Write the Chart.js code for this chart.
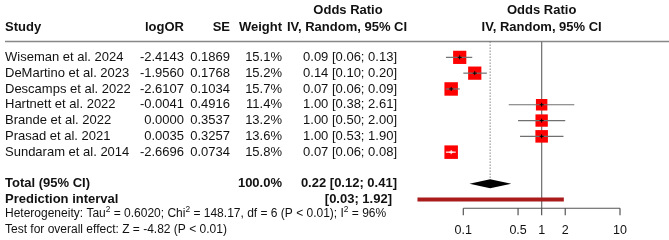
<!DOCTYPE html>
<html>
<head>
<meta charset="utf-8">
<script src="https://cdn.jsdelivr.net/npm/chart.js@4/dist/chart.umd.min.js"></script>
<style>
  body { margin: 0; background: #fff; }
  #wrap { width: 669px; height: 240px; }
</style>
</head>
<body>
<div id="wrap"><canvas id="forestChart"></canvas></div>
<script>
// Dữ liệu
const studies = ["Wiseman et al. 2024", "DeMartino et al. 2023", "Descamps et al. 2022",
    "Hartnett et al. 2022", "Brande et al. 2022", "Prasad et al. 2021", "Sundaram et al. 2014"];
const logOR = [-2.4143, -1.9560, -2.6107, -0.0041, 0.0000, 0.0035, -2.6696];
const seValues = [0.1869, 0.1768, 0.1034, 0.4916, 0.3537, 0.3257, 0.0734];
const weights = [15.1, 15.2, 15.7, 11.4, 13.2, 13.6, 15.8];
const orValues = [0.09, 0.14, 0.07, 1.00, 1.00, 1.00, 0.07];
const ciLow = [0.06, 0.10, 0.06, 0.38, 0.50, 0.53, 0.06];
const ciHigh = [0.13, 0.20, 0.09, 2.61, 2.00, 1.90, 0.08];

const totalOR = [0.22, 0.12, 0.41]; // ước lượng, cận dưới, cận trên
const predInterval = [0.026, 1.92];
const totalWeight = "100.0%";
const predLabel = "[0.03; 1.92]";

const tickValues = [0.1, 0.5, 1, 2, 10];
const tickLabels = ["0.1", "0.5", "1", "2", "10"];

// Vị trí hàng (trục y)
const TOTAL_ROW = 8;
const PRED_ROW = 9;

const FONT = "'Liberation Sans', Arial, sans-serif";

function squareSide(w) {
    return 3.4 * Math.sqrt(w);
}

function fmt(v) {
    return v.toFixed(2);
}

// màu đường CI: trắng nếu nằm trong ô vuông
function ciColor(chart, i) {
    const x = chart.scales.x;
    const w = x.getPixelForValue(ciHigh[i]) - x.getPixelForValue(ciLow[i]);
    return w < squareSide(weights[i]) ? "#ffffff" : "#707070";
}

function drawText(ctx, text, x, y, align, size, bold) {
    ctx.font = (bold ? "bold " : "") + size + "px " + FONT;
    ctx.textAlign = align;
    ctx.textBaseline = "middle";
    ctx.fillText(text, x, y);
}

// vẽ chuỗi có chỉ số trên (Tau², Chi², I²)
function drawRich(ctx, parts, x, y, size) {
    ctx.textAlign = "left";
    ctx.textBaseline = "middle";
    let cx = x;
    parts.forEach((p) => {
        if (p.sup) {
            ctx.font = (size * 0.7) + "px " + FONT;
            ctx.fillText(p.t, cx, y - size * 0.4);
        } else {
            ctx.font = size + "px " + FONT;
            ctx.fillText(p.t, cx, y);
        }
        cx += ctx.measureText(p.t).width;
    });
}

const forestPlugin = {
    id: "forest",
    beforeDatasetsDraw(chart) {
        const ctx = chart.ctx;
        const x = chart.scales.x;
        const y = chart.scales.y;
        ctx.save();

        // đường kẻ dưới tiêu đề
        ctx.strokeStyle = "#888888";
        ctx.lineWidth = 1.5;
        ctx.beginPath();
        ctx.moveTo(5, y.getPixelForValue(-1));
        ctx.lineTo(669, y.getPixelForValue(-1));
        ctx.stroke();

        // đường thẳng đứng tại OR = 1
        const axisY = y.getPixelForValue(9.55);
        ctx.strokeStyle = "#777777";
        ctx.lineWidth = 1.3;
        ctx.beginPath();
        ctx.moveTo(x.getPixelForValue(1), y.getPixelForValue(-1));
        ctx.lineTo(x.getPixelForValue(1), axisY);
        ctx.stroke();

        // đường chấm tại ước lượng tổng
        ctx.strokeStyle = "#666666";
        ctx.lineWidth = 1;
        ctx.setLineDash([1.2, 1.8]);
        ctx.beginPath();
        ctx.moveTo(x.getPixelForValue(totalOR[0]), y.getPixelForValue(-1));
        ctx.lineTo(x.getPixelForValue(totalOR[0]), y.getPixelForValue(TOTAL_ROW) - 4);
        ctx.stroke();
        ctx.setLineDash([]);

        // trục x tự vẽ
        ctx.strokeStyle = "#555555";
        ctx.lineWidth = 1.2;
        ctx.beginPath();
        ctx.moveTo(x.getPixelForValue(tickValues[0]), axisY);
        ctx.lineTo(x.getPixelForValue(tickValues[tickValues.length - 1]), axisY);
        tickValues.forEach((v) => {
            const px = x.getPixelForValue(v);
            ctx.moveTo(px, axisY);
            ctx.lineTo(px, axisY + 7);
        });
        ctx.stroke();

        ctx.fillStyle = "#111111";
        tickValues.forEach((v, i) => {
            drawText(ctx, tickLabels[i], x.getPixelForValue(v), y.getPixelForValue(10.98), "center", 12.5, false);
        });
        ctx.restore();
    },
    afterDatasetsDraw(chart) {
        const ctx = chart.ctx;
        const x = chart.scales.x;
        const y = chart.scales.y;
        ctx.save();

        // hình thoi tổng
        const cy = y.getPixelForValue(TOTAL_ROW);
        ctx.fillStyle = "#000000";
        ctx.beginPath();
        ctx.moveTo(x.getPixelForValue(totalOR[1]), cy);
        ctx.lineTo(x.getPixelForValue(totalOR[0]), cy - 4.5);
        ctx.lineTo(x.getPixelForValue(totalOR[2]), cy);
        ctx.lineTo(x.getPixelForValue(totalOR[0]), cy + 4.5);
        ctx.closePath();
        ctx.fill();

        // các cột chữ
        ctx.fillStyle = "#111111";
        const r = (v) => y.getPixelForValue(v);
        drawText(ctx, "Study", 5, r(-1.92), "left", 13, true);
        drawText(ctx, "logOR", 184, r(-1.92), "right", 13, true);
        drawText(ctx, "SE", 230, r(-1.92), "right", 13, true);
        drawText(ctx, "Weight", 282, r(-1.92), "right", 13, true);
        drawText(ctx, "Odds Ratio", 348, r(-2.95), "center", 13, true);
        drawText(ctx, "IV, Random, 95% CI", 347, r(-1.92), "center", 13, true);
        drawText(ctx, "Odds Ratio", x.getPixelForValue(1), r(-2.95), "center", 13, true);
        drawText(ctx, "IV, Random, 95% CI", x.getPixelForValue(1), r(-1.92), "center", 13, true);

        studies.forEach((name, i) => {
            drawText(ctx, name, 5, r(i), "left", 13, false);
            drawText(ctx, logOR[i].toFixed(4), 184, r(i), "right", 13, false);
            drawText(ctx, seValues[i].toFixed(4), 230, r(i), "right", 13, false);
            drawText(ctx, weights[i].toFixed(1) + "%", 282, r(i), "right", 13, false);
            drawText(ctx, fmt(orValues[i]) + " [" + fmt(ciLow[i]) + "; " + fmt(ciHigh[i]) + "]", 397, r(i), "right", 13, false);
        });

        drawText(ctx, "Total (95% CI)", 5, r(TOTAL_ROW), "left", 13, true);
        drawText(ctx, totalWeight, 282, r(TOTAL_ROW), "right", 13, true);
        drawText(ctx, fmt(totalOR[0]) + " [" + fmt(totalOR[1]) + "; " + fmt(totalOR[2]) + "]", 397, r(TOTAL_ROW), "right", 13, true);
        drawText(ctx, "Prediction interval", 5, r(PRED_ROW), "left", 13, true);
        drawText(ctx, predLabel, 392, r(PRED_ROW), "right", 13, true);

        drawRich(ctx, [
            { t: "Heterogeneity: Tau" }, { t: "2", sup: true }, { t: " = 0.6020; Chi" }, { t: "2", sup: true },
            { t: " = 148.17, df = 6 (P < 0.01); I" }, { t: "2", sup: true }, { t: " = 96%" }
        ], 5, r(9.92), 12);
        drawRich(ctx, [{ t: "Test for overall effect: Z = -4.82 (P < 0.01)" }], 5, r(10.9), 12);

        ctx.restore();
    }
};

function renderForest() {
    const datasets = [];

    // điểm giữa (dấu +)
    datasets.push({
        label: "centers",
        data: studies.map((s, i) => ({ x: orValues[i], y: i })),
        pointStyle: "cross",
        pointRadius: 2,
        pointBorderWidth: 1,
        pointBorderColor: (c) => ciColor(c.chart, c.dataIndex) === "#ffffff" ? "#ffffff" : "#000000",
        showLine: false,
        order: 1,
        clip: false,
    });

    // khoảng tin cậy từng nghiên cứu
    studies.forEach((s, i) => {
        datasets.push({
            label: "ci " + i,
            data: [{ x: ciLow[i], y: i }, { x: ciHigh[i], y: i }],
            showLine: true,
            borderColor: (c) => ciColor(c.chart, i),
            borderWidth: 1.2,
            pointRadius: 0,
            order: 2,
            clip: false,
        });
    });

    // ô vuông theo trọng số
    datasets.push({
        label: "squares",
        data: studies.map((s, i) => ({ x: orValues[i], y: i })),
        pointStyle: "rect",
        pointRadius: weights.map((w) => squareSide(w) / Math.SQRT2),
        pointBackgroundColor: "#ff0000",
        pointBorderWidth: 0,
        showLine: false,
        order: 3,
        clip: false,
    });

    // khoảng dự đoán
    datasets.push({
        label: "prediction",
        data: [{ x: predInterval[0], y: PRED_ROW }, { x: predInterval[1], y: PRED_ROW }],
        showLine: true,
        borderColor: "#aa1c1c",
        borderWidth: 4,
        borderCapStyle: "butt",
        pointRadius: 0,
        order: 4,
        clip: false,
    });

    // vùng vẽ 400..640 px; 0.1 nằm ở ~463 px, 10 ở ~620 px
    const ctx = document.getElementById("forestChart").getContext("2d");
    new Chart(ctx, {
        type: "scatter",
        data: { datasets: datasets },
        options: {
            responsive: true,
            maintainAspectRatio: false,
            animation: false,
            devicePixelRatio: 1,
            layout: { autoPadding: false, padding: { left: 400, right: 29, top: 0, bottom: 0 } },
            scales: {
                x: { type: "logarithmic", min: 0.015562, max: 18.0, bounds: "data", display: false },
                y: { type: "linear", min: -3.63, max: 11.56, reverse: true, display: false },
            },
            plugins: {
                legend: { display: false },
                tooltip: { enabled: false },
            },
        },
        plugins: [forestPlugin],
    });
}

renderForest();
</script>
</body>
</html>
